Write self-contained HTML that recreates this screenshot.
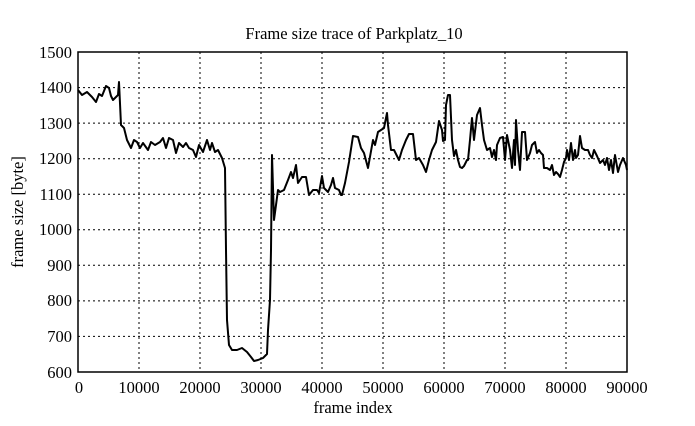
<!DOCTYPE html><html><head><style>body{margin:0;background:#fff}svg{display:block}text{font-family:"Liberation Serif",serif;font-size:16.5px;fill:#000}</style></head><body>
<svg width="695" height="426" viewBox="0 0 695 426">
<g stroke="#000" stroke-width="1" stroke-dasharray="2,3">
<line x1="139" y1="52" x2="139" y2="372"/><line x1="200" y1="52" x2="200" y2="372"/><line x1="261" y1="52" x2="261" y2="372"/><line x1="322" y1="52" x2="322" y2="372"/><line x1="383" y1="52" x2="383" y2="372"/><line x1="444" y1="52" x2="444" y2="372"/><line x1="505" y1="52" x2="505" y2="372"/><line x1="566" y1="52" x2="566" y2="372"/>
<line x1="78" y1="87.6" x2="627" y2="87.6"/><line x1="78" y1="123.1" x2="627" y2="123.1"/><line x1="78" y1="158.7" x2="627" y2="158.7"/><line x1="78" y1="194.2" x2="627" y2="194.2"/><line x1="78" y1="229.8" x2="627" y2="229.8"/><line x1="78" y1="265.3" x2="627" y2="265.3"/><line x1="78" y1="300.9" x2="627" y2="300.9"/><line x1="78" y1="336.4" x2="627" y2="336.4"/>
</g>
<rect x="78" y="52" width="549" height="320" fill="none" stroke="#000" stroke-width="1.5"/>
<polyline fill="none" stroke="#000" stroke-width="2" stroke-linejoin="round" points="78,90 82,95 87,92 92,97 96,102 99,94 102,96 106,86 109,88 111,96 113,100 118,95 119,82 121,125 124,128 127,140 131,148 134,140 137,142 140,148 143,143 148,150 151,142 155,145 160,142 163,138 166,148 169,138 173,140 176,153 179,143 183,147 186,143 189,148 193,150 196,157 199,145 203,152 207,140 210,150 212,143 215,152 218,150 222,158 225,168 226,250 227,320 229,345 232,350 237,350 242,348 247,352 251,357 254,361 258,360 263,358 267,354 268,330 270,300 271,250 272,155 274,220 276,205 278,190 280,192 284,190 288,180 291,172 293,178 296,165 298,183 302,177 306,177 309,195 313,190 317,190 319,193 322,176 324,188 328,192 331,185 333,178 335,188 339,190 341,195 342,195 345,183 349,162 353,136 358,137 361,148 364,153 368,168 373,140 375,145 378,132 381,130 384,128 387,113 388,125 391,150 394,150 399,160 402,150 406,140 409,134 413,134 416,160 419,158 423,165 426,172 429,160 432,150 435,144 436,142 439,121 442,130 443,141 445,140 446,105 448,95 450,95 452,140 454,156 456,150 458,160 460,167 462,168 464,166 467,160 468,160 470,140 472,118 474,140 477,115 480,108 482,125 484,140 487,150 490,148 492,157 494,150 496,160 497,145 500,138 503,137 505,160 507,135 510,150 512,168 514,140 515,165 516,120 518,150 520,170 522,132 525,132 527,160 530,153 532,145 535,142 537,153 539,150 541,153 543,155 544,168 547,168 550,170 552,165 554,175 556,172 558,174 560,177 562,170 564,162 566,158 567,150 569,160 571,143 573,160 575,150 576,158 578,155 580,136 582,148 585,150 588,150 590,155 592,158 594,150 597,156 600,163 603,160 605,165 607,158 609,170 611,160 613,173 615,155 618,172 620,165 623,158 626,165 627,170"/>
<g text-anchor="end">
<text x="72" y="58">1500</text><text x="72" y="93">1400</text><text x="72" y="129">1300</text><text x="72" y="164">1200</text><text x="72" y="200">1100</text><text x="72" y="235">1000</text><text x="72" y="271">900</text><text x="72" y="306">800</text><text x="72" y="342">700</text><text x="72" y="378">600</text>
</g>
<g text-anchor="middle">
<text x="79" y="393">0</text><text x="139" y="393">10000</text><text x="200" y="393">20000</text><text x="261" y="393">30000</text><text x="322" y="393">40000</text><text x="383" y="393">50000</text><text x="444" y="393">60000</text><text x="505" y="393">70000</text><text x="566" y="393">80000</text><text x="627" y="393">90000</text>
<text x="353" y="413">frame index</text>
<text x="354" y="39">Frame size trace of Parkplatz_10</text>
<text x="0" y="0" transform="translate(23,212) rotate(-90)">frame size [byte]</text>
</g>
</svg></body></html>
